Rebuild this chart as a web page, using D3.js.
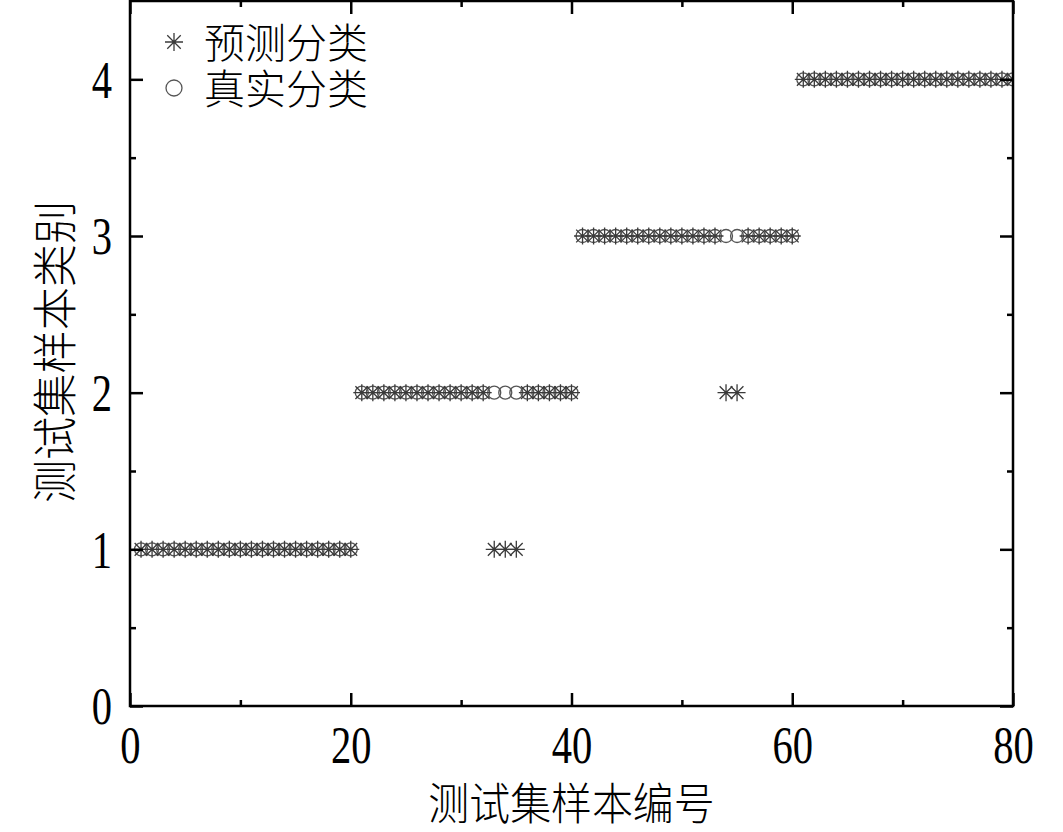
<!DOCTYPE html>
<html>
<head>
<meta charset="utf-8">
<script src="https://cdn.jsdelivr.net/npm/d3@7"></script>
<style>
  body { margin: 0; background: #fff; }
  svg { display: block; }
</style>
</head>
<body>
<svg></svg>
<script>
const width = 1063;
const height = 832;
const margin = { left: 130, right: 50, top: 1, bottom: 126 };

// sample number 1..80
const sampleNo = [
  1, 2, 3, 4, 5, 6, 7, 8, 9, 10, 11, 12, 13, 14, 15, 16, 17, 18, 19, 20,
  21, 22, 23, 24, 25, 26, 27, 28, 29, 30, 31, 32, 33, 34, 35, 36, 37, 38, 39, 40,
  41, 42, 43, 44, 45, 46, 47, 48, 49, 50, 51, 52, 53, 54, 55, 56, 57, 58, 59, 60,
  61, 62, 63, 64, 65, 66, 67, 68, 69, 70, 71, 72, 73, 74, 75, 76, 77, 78, 79, 80
];
const trueClass = [
  1, 1, 1, 1, 1, 1, 1, 1, 1, 1, 1, 1, 1, 1, 1, 1, 1, 1, 1, 1,
  2, 2, 2, 2, 2, 2, 2, 2, 2, 2, 2, 2, 2, 2, 2, 2, 2, 2, 2, 2,
  3, 3, 3, 3, 3, 3, 3, 3, 3, 3, 3, 3, 3, 3, 3, 3, 3, 3, 3, 3,
  4, 4, 4, 4, 4, 4, 4, 4, 4, 4, 4, 4, 4, 4, 4, 4, 4, 4, 4, 4
];
const predClass = [
  1, 1, 1, 1, 1, 1, 1, 1, 1, 1, 1, 1, 1, 1, 1, 1, 1, 1, 1, 1,
  2, 2, 2, 2, 2, 2, 2, 2, 2, 2, 2, 2, 1, 1, 1, 2, 2, 2, 2, 2,
  3, 3, 3, 3, 3, 3, 3, 3, 3, 3, 3, 3, 3, 2, 2, 3, 3, 3, 3, 3,
  4, 4, 4, 4, 4, 4, 4, 4, 4, 4, 4, 4, 4, 4, 4, 4, 4, 4, 4, 4
];
const xTicks = [0, 20, 40, 60, 80];
const xMinor = [10, 30, 50, 70];
const yTicks = [0, 1, 2, 3, 4];
const yMinor = [0.5, 1.5, 2.5, 3.5];
const legendLabels = ['预测分类', '真实分类'];
const xTitle = '测试集样本编号';
const yTitle = '测试集样本类别';

const svg = d3.select('svg')
  .attr('width', width)
  .attr('height', height);

const x = d3.scaleLinear()
  .domain([0, 80])
  .range([margin.left, width - margin.right]);

const y = d3.scaleLinear()
  .domain([0, 4.5])
  .range([height - margin.bottom, margin.top]);

const numFont = '"Liberation Serif", "Times New Roman", serif';
const cjkFont = '"Noto Sans CJK SC", sans-serif';
const sx = 0.78;

svg.append('clipPath').attr('id', 'clip')
  .append('rect')
  .attr('x', x(0)).attr('y', y(4.5))
  .attr('width', x(80) - x(0)).attr('height', y(0) - y(4.5));

// markers
const star = (g, r) => {
  const d = `M${-r},0L${r},0M0,${-r}L0,${r}` +
    `M${-r * 0.75},${-r * 0.75}L${r * 0.75},${r * 0.75}` +
    `M${-r * 0.75},${r * 0.75}L${r * 0.75},${-r * 0.75}`;
  g.append('path').attr('d', d)
    .attr('stroke', '#3a3a3a').attr('stroke-width', 1.3).attr('fill', 'none');
};

const pts = sampleNo.map((n, i) => ({ n, t: trueClass[i], p: predClass[i] }));

const plot = svg.append('g').attr('clip-path', 'url(#clip)');

plot.selectAll('circle.true')
  .data(pts)
  .enter()
  .append('circle')
  .attr('class', 'true')
  .attr('cx', d => x(d.n))
  .attr('cy', d => y(d.t))
  .attr('r', 6.5)
  .attr('fill', 'none')
  .attr('stroke', '#555')
  .attr('stroke-width', 1.3);

plot.selectAll('g.pred')
  .data(pts)
  .enter()
  .append('g')
  .attr('class', 'pred')
  .attr('transform', d => `translate(${x(d.n)},${y(d.p)})`)
  .each(function () { star(d3.select(this), 8.5); });

// axes, ticks inward on all four sides
const axisStyle = g => {
  g.select('.domain').remove();
  g.selectAll('line').attr('stroke', '#000').attr('stroke-width', 2.5);
};

const majorLen = 13, minorLen = 6;

svg.append('g')
  .attr('transform', `translate(0,${y(0)})`)
  .call(d3.axisBottom(x).tickValues(xTicks).tickSize(-majorLen).tickPadding(20).tickFormat(d3.format('d')))
  .call(axisStyle)
  .call(g => g.selectAll('text')
    .attr('font-family', numFont).attr('font-size', 52).attr('fill', '#000')
    .attr('transform', `scale(${sx},1)`));

svg.append('g')
  .attr('transform', `translate(0,${y(0)})`)
  .call(d3.axisBottom(x).tickValues(xMinor).tickSize(-minorLen).tickFormat(''))
  .call(axisStyle);

svg.append('g')
  .attr('transform', `translate(0,${y(4.5)})`)
  .call(d3.axisTop(x).tickValues(xTicks).tickSize(-majorLen).tickFormat(''))
  .call(axisStyle);

svg.append('g')
  .attr('transform', `translate(0,${y(4.5)})`)
  .call(d3.axisTop(x).tickValues(xMinor).tickSize(-minorLen).tickFormat(''))
  .call(axisStyle);

svg.append('g')
  .attr('transform', `translate(${x(0)},0)`)
  .call(d3.axisLeft(y).tickValues(yTicks).tickSize(-majorLen).tickPadding(0).tickFormat(d3.format('d')))
  .call(axisStyle)
  .call(g => g.selectAll('text')
    .attr('font-family', numFont).attr('font-size', 52).attr('fill', '#000')
    .attr('x', -18 / sx).attr('dy', '0.34em')
    .attr('transform', `scale(${sx},1)`));

svg.append('g')
  .attr('transform', `translate(${x(0)},0)`)
  .call(d3.axisLeft(y).tickValues(yMinor).tickSize(-minorLen).tickFormat(''))
  .call(axisStyle);

svg.append('g')
  .attr('transform', `translate(${x(80)},0)`)
  .call(d3.axisRight(y).tickValues(yTicks).tickSize(-majorLen).tickFormat(''))
  .call(axisStyle);

svg.append('g')
  .attr('transform', `translate(${x(80)},0)`)
  .call(d3.axisRight(y).tickValues(yMinor).tickSize(-minorLen).tickFormat(''))
  .call(axisStyle);

// frame
svg.append('rect')
  .attr('x', x(0)).attr('y', y(4.5))
  .attr('width', x(80) - x(0)).attr('height', y(0) - y(4.5))
  .attr('fill', 'none').attr('stroke', '#000').attr('stroke-width', 2.5);

// titles
svg.append('text')
  .attr('transform', `translate(${(x(0) + x(80)) / 2},820) scale(0.93,1)`)
  .attr('text-anchor', 'middle')
  .attr('font-family', cjkFont).attr('font-size', 44).attr('font-weight', 300)
  .text(xTitle);

svg.append('text')
  .attr('transform', `translate(72,${y(2.26)}) rotate(-90) scale(0.96,1)`)
  .attr('text-anchor', 'middle')
  .attr('font-family', cjkFont).attr('font-size', 45).attr('font-weight', 300)
  .text(yTitle);

// legend
const legend = svg.append('g').attr('transform', 'translate(174,42)');
star(legend.append('g'), 9);
legend.append('circle')
  .attr('cx', 0).attr('cy', 46).attr('r', 8)
  .attr('fill', 'none').attr('stroke', '#555').attr('stroke-width', 1.3);
legend.selectAll('text')
  .data(legendLabels)
  .enter()
  .append('text')
  .attr('x', 30)
  .attr('y', (d, i) => i * 46 + 16)
  .attr('font-family', cjkFont).attr('font-size', 41).attr('font-weight', 300)
  .text(d => d);
</script>
</body>
</html>
